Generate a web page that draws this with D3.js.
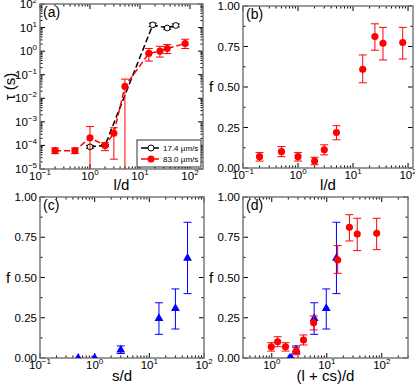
<!DOCTYPE html>
<html>
<head>
<meta charset="utf-8">
<script src="https://cdn.jsdelivr.net/npm/d3@7"></script>
<style>
body { margin: 0; background: #fff; }
text { font-family: "Liberation Sans", Arial, sans-serif; fill: #000; }
</style>
</head>
<body>
<div class="wrapper"></div>
<script>
// (a) relaxation time vs l/d, two speeds
const ldFast = [0.2, 0.5, 1, 2, 3, 5, 15, 25, 35, 80]
const tauFast = [6e-5, 6e-5, 2.1e-4, 1e-4, 3.3e-4, 0.032, 0.8, 1.0, 1.3, 2.1]
const tauFastLo = [4.5e-5, 4.5e-5, 1e-7, 6e-5, 2.6e-5, 1e-7, 0.38, 0.56, 0.79, 1.3]
const tauFastHi = [7.8e-5, 7.8e-5, 6.3e-4, 1.3e-4, 5.6e-4, 0.065, 1.3, 1.6, 1.9, 3.2]
const ldSlow = [1, 2, 18, 35, 52]
const tauSlow = [8.7e-5, 1e-4, 13, 9.6, 12.3]
const tauSlowLo = [7.6e-5, 9e-5, 11, 8.4, 10.6]
const tauSlowHi = [1e-4, 1.1e-4, 15.5, 11, 14.3]
const legendLabels = ["17.4 \u00b5m/s", "83.0 \u00b5m/s"]

// (b) f vs l/d
const fLd = [0.07, 0.101, 0.07, 0.043, 0.112, 0.219, 0.609, 0.812, 0.77, 0.775]
const fLdLo = [0.043, 0.07, 0.043, 0.02, 0.081, 0.174, 0.526, 0.727, 0.667, 0.673]
const fLdHi = [0.095, 0.132, 0.095, 0.066, 0.143, 0.261, 0.698, 0.89, 0.868, 0.868]

// (c) f vs s/d
const sd = [0.5, 1, 3, 15, 30, 50]
const fSd = [0, 0, 0.05, 0.246, 0.308, 0.62]
const fSdLo = [0, 0, 0.028, 0.147, 0.18, 0.40]
const fSdHi = [0, 0, 0.075, 0.343, 0.429, 0.843]

// (d) f vs (l + cs)/d
const combRed = [0.98, 1.28, 1.78, 2.78, 3.78, 5.78, 15.8, 25.8, 35.8, 80.8]
const combBlue = [2.13, 2.26, 2.78, 5.9, 9.8, 15]

const width = 415
const height = 386
const red = "#ff0000"
const blue = "#0000ff"

const svg = d3.select(".wrapper").append("svg")
    .attr("width", width)
    .attr("height", height)
const defs = svg.append("defs")

const supers = {"-1": "\u22121", "-2": "\u22122", "-3": "\u22123", "-4": "\u22124", "-5": "\u22125"}

function logTicks(domain) {
    const out = []
    const e0 = Math.floor(Math.log10(domain[0])), e1 = Math.ceil(Math.log10(domain[1]))
    for (let e = e0; e <= e1; e++) {
        for (let k = 1; k <= 9; k++) {
            const v = k * Math.pow(10, e)
            if (v >= domain[0] * 0.999 && v <= domain[1] * 1.001) out.push({v, major: k === 1, e})
        }
    }
    return out
}
function linTicks() {
    return d3.range(0, 1.0001, 0.125).map((v, i) => ({v, major: i % 2 === 0}))
}

function powLabel(sel, e) {
    sel.append("tspan").text("10")
    sel.append("tspan").attr("dy", -5).attr("font-size", 8)
        .text(supers[e] || String(e))
}

function makePanel(p) {
    const x = d3.scaleLog().domain(p.xDomain).range([p.left, p.right])
    const y = (p.yLog ? d3.scaleLog() : d3.scaleLinear()).domain(p.yDomain).range([p.bottom, p.top])
    const g = svg.append("g")
    const clipId = "clip-" + p.name
    defs.append("clipPath").attr("id", clipId)
        .append("rect")
        .attr("x", p.left).attr("y", p.top)
        .attr("width", p.right - p.left).attr("height", p.bottom - p.top)

    const xt = logTicks(p.xDomain)
    const yt = p.yLog ? logTicks(p.yDomain) : linTicks()
    const ticks = g.append("g").attr("stroke", "#000").attr("stroke-width", 1)
    xt.forEach(t => {
        const len = t.major ? 5 : 2.5
        const xx = x(t.v)
        ticks.append("line").attr("x1", xx).attr("x2", xx).attr("y1", p.bottom).attr("y2", p.bottom - len)
        ticks.append("line").attr("x1", xx).attr("x2", xx).attr("y1", p.top).attr("y2", p.top + len)
        if (t.major) {
            const lab = g.append("text").attr("x", xx).attr("y", p.bottom + 11)
                .attr("text-anchor", "middle").attr("font-size", 11.5)
            powLabel(lab, t.e)
        }
    })
    yt.forEach(t => {
        const len = t.major ? 5 : 2.5
        const yy = y(t.v)
        ticks.append("line").attr("y1", yy).attr("y2", yy).attr("x1", p.left).attr("x2", p.left + len)
        ticks.append("line").attr("y1", yy).attr("y2", yy).attr("x1", p.right).attr("x2", p.right - len)
        if (t.major) {
            const lab = g.append("text").attr("x", p.left - 3).attr("y", yy + 4)
                .attr("text-anchor", "end").attr("font-size", 11.5)
            if (p.yLog) powLabel(lab, t.e)
            else lab.text(d3.format(".2f")(t.v))
        }
    })

    g.append("rect")
        .attr("x", p.left).attr("y", p.top)
        .attr("width", p.right - p.left).attr("height", p.bottom - p.top)
        .attr("fill", "none").attr("stroke", "#7a7a7a").attr("stroke-width", 1.5)

    g.append("text").attr("x", p.left + 3).attr("y", p.top + 13)
        .attr("font-size", 14).text(p.tag)
    g.append("text").attr("x", (p.left + p.right) / 2).attr("y", p.xTitleY)
        .attr("text-anchor", "middle").attr("font-size", 15).text(p.xTitle)
    if (p.yTitleUpright) {
        g.append("text").attr("x", p.yTitleX).attr("y", (p.top + p.bottom) / 2 + 5)
            .attr("text-anchor", "middle").attr("font-size", 15).text(p.yTitle)
    } else {
        g.append("text")
            .attr("transform", `translate(${p.yTitleX}, ${(p.top + p.bottom) / 2}) rotate(-90)`)
            .attr("text-anchor", "middle").attr("font-size", 15).text(p.yTitle)
    }

    const plot = g.append("g").attr("clip-path", `url(#${clipId})`)
    return {x, y, plot}
}

function drawSeries(panel, xs, ys, lo, hi, color, opts) {
    const {x, y, plot} = panel
    const pts = xs.map((v, i) => ({x: v, y: ys[i], lo: lo[i], hi: hi[i]}))
    if (opts.line) {
        plot.append("path")
            .datum(pts)
            .attr("d", d3.line().x(d => x(d.x)).y(d => y(d.y)))
            .attr("fill", "none").attr("stroke", color)
            .attr("stroke-width", 1.5).attr("stroke-dasharray", "6,3")
    }
    const err = plot.append("g").attr("stroke", color).attr("stroke-width", 1)
    pts.forEach(d => {
        if (d.hi === d.lo) return
        const cx = x(d.x)
        err.append("line").attr("x1", cx).attr("x2", cx).attr("y1", y(d.lo)).attr("y2", y(d.hi))
        err.append("line").attr("x1", cx - 4).attr("x2", cx + 4).attr("y1", y(d.lo)).attr("y2", y(d.lo))
        err.append("line").attr("x1", cx - 4).attr("x2", cx + 4).attr("y1", y(d.hi)).attr("y2", y(d.hi))
    })
    const sym = opts.shape === "triangle"
        ? d3.symbol().type(d3.symbolTriangle).size(34)
        : d3.symbol().type(d3.symbolCircle).size(opts.open ? 26 : 40)
    plot.selectAll(null).data(pts).enter().append("path")
        .attr("transform", d => `translate(${x(d.x)},${y(d.y)})`)
        .attr("d", sym)
        .attr("fill", opts.open ? "#fff" : color)
        .attr("stroke", opts.open ? "#000" : "none")
        .attr("stroke-width", 1)
}

// panel (a)
const pa = makePanel({name: "a", tag: "(a)", left: 40, right: 203, top: 4, bottom: 169,
    xDomain: [0.1, 182], yDomain: [1e-5, 1e2], yLog: true,
    xTitle: "l/d", yTitle: "\u03c4 (s)", xTitleY: 190, yTitleX: 15})
drawSeries(pa, ldSlow, tauSlow, tauSlowLo, tauSlowHi, "#000", {line: true, open: true})
drawSeries(pa, ldFast, tauFast, tauFastLo, tauFastHi, red, {line: true})

// legend
const legend = svg.append("g").attr("transform", "translate(137, 140)")
legend.append("rect").attr("width", 64).attr("height", 27)
    .attr("fill", "#fff").attr("stroke", "#333").attr("stroke-width", 1)
const legendColors = ["#000", red]
legendLabels.forEach((lab, i) => {
    const ly = 8 + i * 11
    legend.append("line").attr("x1", 4).attr("x2", 22).attr("y1", ly).attr("y2", ly)
        .attr("stroke", legendColors[i]).attr("stroke-width", 1.5)
    legend.append("circle").attr("cx", 14).attr("cy", ly).attr("r", i === 0 ? 3 : 3.5)
        .attr("fill", i === 0 ? "#fff" : red).attr("stroke", i === 0 ? "#000" : "none")
    legend.append("text").attr("x", 26).attr("y", ly + 3).attr("font-size", 8).text(lab)
})

// panel (b)
const pb = makePanel({name: "b", tag: "(b)", left: 243, right: 413, top: 6, bottom: 168,
    xDomain: [0.1, 123], yDomain: [0, 1],
    xTitle: "l/d", yTitle: "f", xTitleY: 190, yTitleX: 211, yTitleUpright: true})
drawSeries(pb, ldFast, fLd, fLdLo, fLdHi, red, {})

// panel (c)
const pc = makePanel({name: "c", tag: "(c)", left: 40, right: 204, top: 197, bottom: 358,
    xDomain: [0.1, 100], yDomain: [0, 1],
    xTitle: "s/d", yTitle: "f", xTitleY: 381, yTitleX: 8, yTitleUpright: true})
drawSeries(pc, sd, fSd, fSdLo, fSdHi, blue, {shape: "triangle"})

// panel (d)
const pd = makePanel({name: "d", tag: "(d)", left: 243, right: 408, top: 197, bottom: 358,
    xDomain: [0.3, 300], yDomain: [0, 1],
    xTitle: "(l + cs)/d", yTitle: "f", xTitleY: 381, yTitleX: 211, yTitleUpright: true})
drawSeries(pd, combBlue, fSd, fSdLo, fSdHi, blue, {shape: "triangle"})
drawSeries(pd, combRed, fLd, fLdLo, fLdHi, red, {})
</script>
</body>
</html>
